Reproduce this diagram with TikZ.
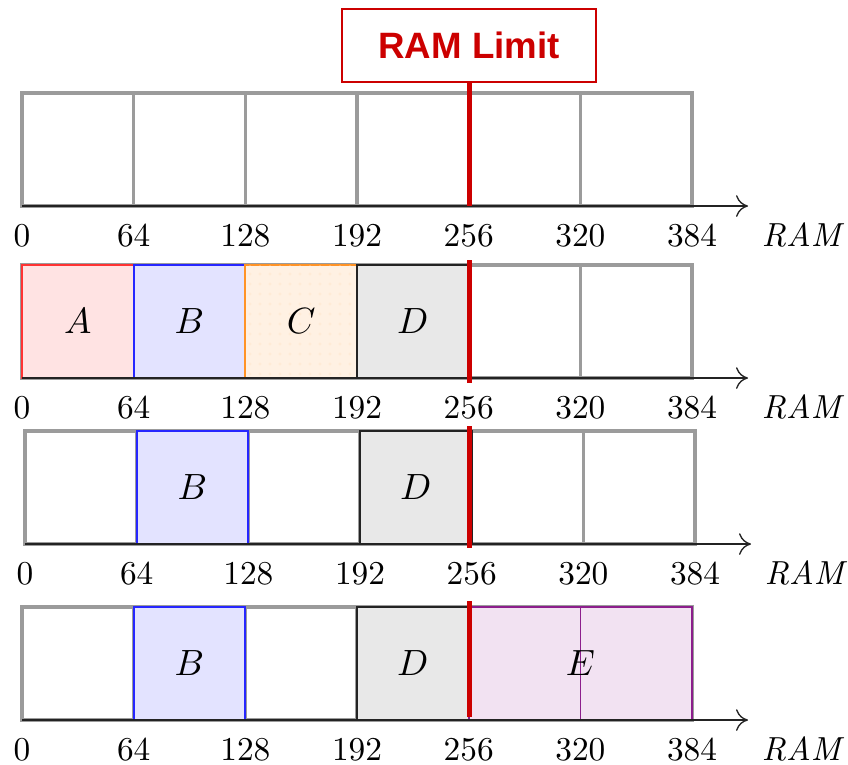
\documentclass[tikz,border=0pt]{standalone}
\usepackage{fontspec}
\newfontfamily\limitfont{Liberation Sans}
\usetikzlibrary{arrows.meta,patterns}

\definecolor{limitred}{RGB}{204,0,0}
\definecolor{gridgray}{RGB}{155,155,155}
\definecolor{axisblack}{RGB}{35,35,35}
\definecolor{Eborder}{RGB}{140,30,140}
\definecolor{Efill}{RGB}{242,226,242}

\tikzset{
  gridline/.style={draw=gridgray, line width=0.95pt},
  axisline/.style={draw=axisblack, line width=0.85pt,
    -{To[length=3.6pt,width=6.5pt,line width=0.4pt]}},
  tick label/.style={anchor=base, inner sep=0pt, font=\fontsize{10}{12}\selectfont},
  cell label/.style={inner sep=0pt, font=\fontsize{11}{13}\selectfont},
  cellA/.style={draw=red!80, fill=red!11, line width=0.6pt},
  cellB/.style={draw=blue!85, fill=blue!11, line width=0.6pt},
  cellC/.style={draw=orange!85, fill=orange!11, line width=0.6pt},
  cellD/.style={draw=axisblack, fill=black!9, line width=0.6pt},
  cellE/.style={draw=Eborder, fill=Efill, line width=0.6pt},
  limit box/.style={draw=limitred, fill=white, line width=0.6pt,
    minimum width=76pt, minimum height=22pt, inner sep=0pt,
    text=limitred, font=\limitfont\bfseries\fontsize{11}{13}\selectfont},
  limit line/.style={draw=limitred, line width=1.5pt},
}

% One memory row: #1 name, #2 x offset, #3 y of the top edge, #4 blocks
\newcommand\memrow[4]{%
  \begin{scope}[shift={(#2,#3)}]
    \draw[gridline] (0,0) rectangle (670,113);
    \foreach \k in {1,...,5}
      \draw[gridline] (\k*111.667,0) -- (\k*111.667,113);
    #4
    \coordinate (#1o) at (0,113);
    \coordinate (#1end) at (726,113);
    \draw[axisline] (#1o) -- (#1end);
    \foreach \v [count=\i from 0] in {0,64,128,192,256,320,384}
      \node[tick label] (#1t\v) at (\i*111.667,153) {\v};
    \node[tick label] (#1ram) at (781,153) {\textit{RAM}};
  \end{scope}}

\begin{document}
\begin{tikzpicture}[x=0.3pt,y=-0.3pt]
  \useasboundingbox (0,0) rectangle (848,764);

  % empty memory
  \memrow{a}{22}{93}{}

  % four blocks loaded
  \memrow{b}{22}{265}{
    \path[cellA] (0,0) rectangle (111.667,113);
    \node[cell label] (bA) at (55.8,56.5) {$A$};
    \path[cellB] (111.667,0) rectangle (223.333,113);
    \node[cell label] (bB) at (167.5,56.5) {$B$};
    \path[cellC] (223.333,0) rectangle (335,113);
    \path[pattern=dots, pattern color=orange!16] (223.333,0) rectangle (335,113);
    \node[cell label] (bC) at (279.2,56.5) {$C$};
    \path[cellD] (335,0) rectangle (446.667,113);
    \node[cell label] (bD) at (390.8,56.5) {$D$};
  }

  % A and C freed
  \memrow{c}{25}{431}{
    \path[cellB] (111.667,0) rectangle (223.333,113);
    \node[cell label] (cB) at (167.5,56.5) {$B$};
    \path[cellD] (335,0) rectangle (446.667,113);
    \node[cell label] (cD) at (390.8,56.5) {$D$};
  }

  % E placed past the limit
  \memrow{d}{22}{607}{
    \path[cellB] (111.667,0) rectangle (223.333,113);
    \node[cell label] (dB) at (167.5,56.5) {$B$};
    \path[cellD] (335,0) rectangle (446.667,113);
    \node[cell label] (dD) at (390.8,56.5) {$D$};
    \path[cellE] (446.667,0) rectangle (670,113);
    \draw[draw=Eborder, line width=0.5pt] (558.333,0) -- (558.333,113);
    \node[cell label] (dE) at (558.333,56.5) {$E$};
  }

  % RAM limit marker
  \node[limit box] (limit) at (469,45.5) {RAM Limit};
  \coordinate (cut1) at (469,206);
  \coordinate (cut2a) at (469,260);
  \coordinate (cut2b) at (469,383);
  \coordinate (cut3a) at (469,426);
  \coordinate (cut3b) at (469,548);
  \coordinate (cut4a) at (469,601);
  \coordinate (cut4b) at (469,717);
  \draw[limit line] (limit.south) -- (cut1);
  \draw[limit line] (cut2a) -- (cut2b);
  \draw[limit line] (cut3a) -- (cut3b);
  \draw[limit line] (cut4a) -- (cut4b);
\end{tikzpicture}
\end{document}
